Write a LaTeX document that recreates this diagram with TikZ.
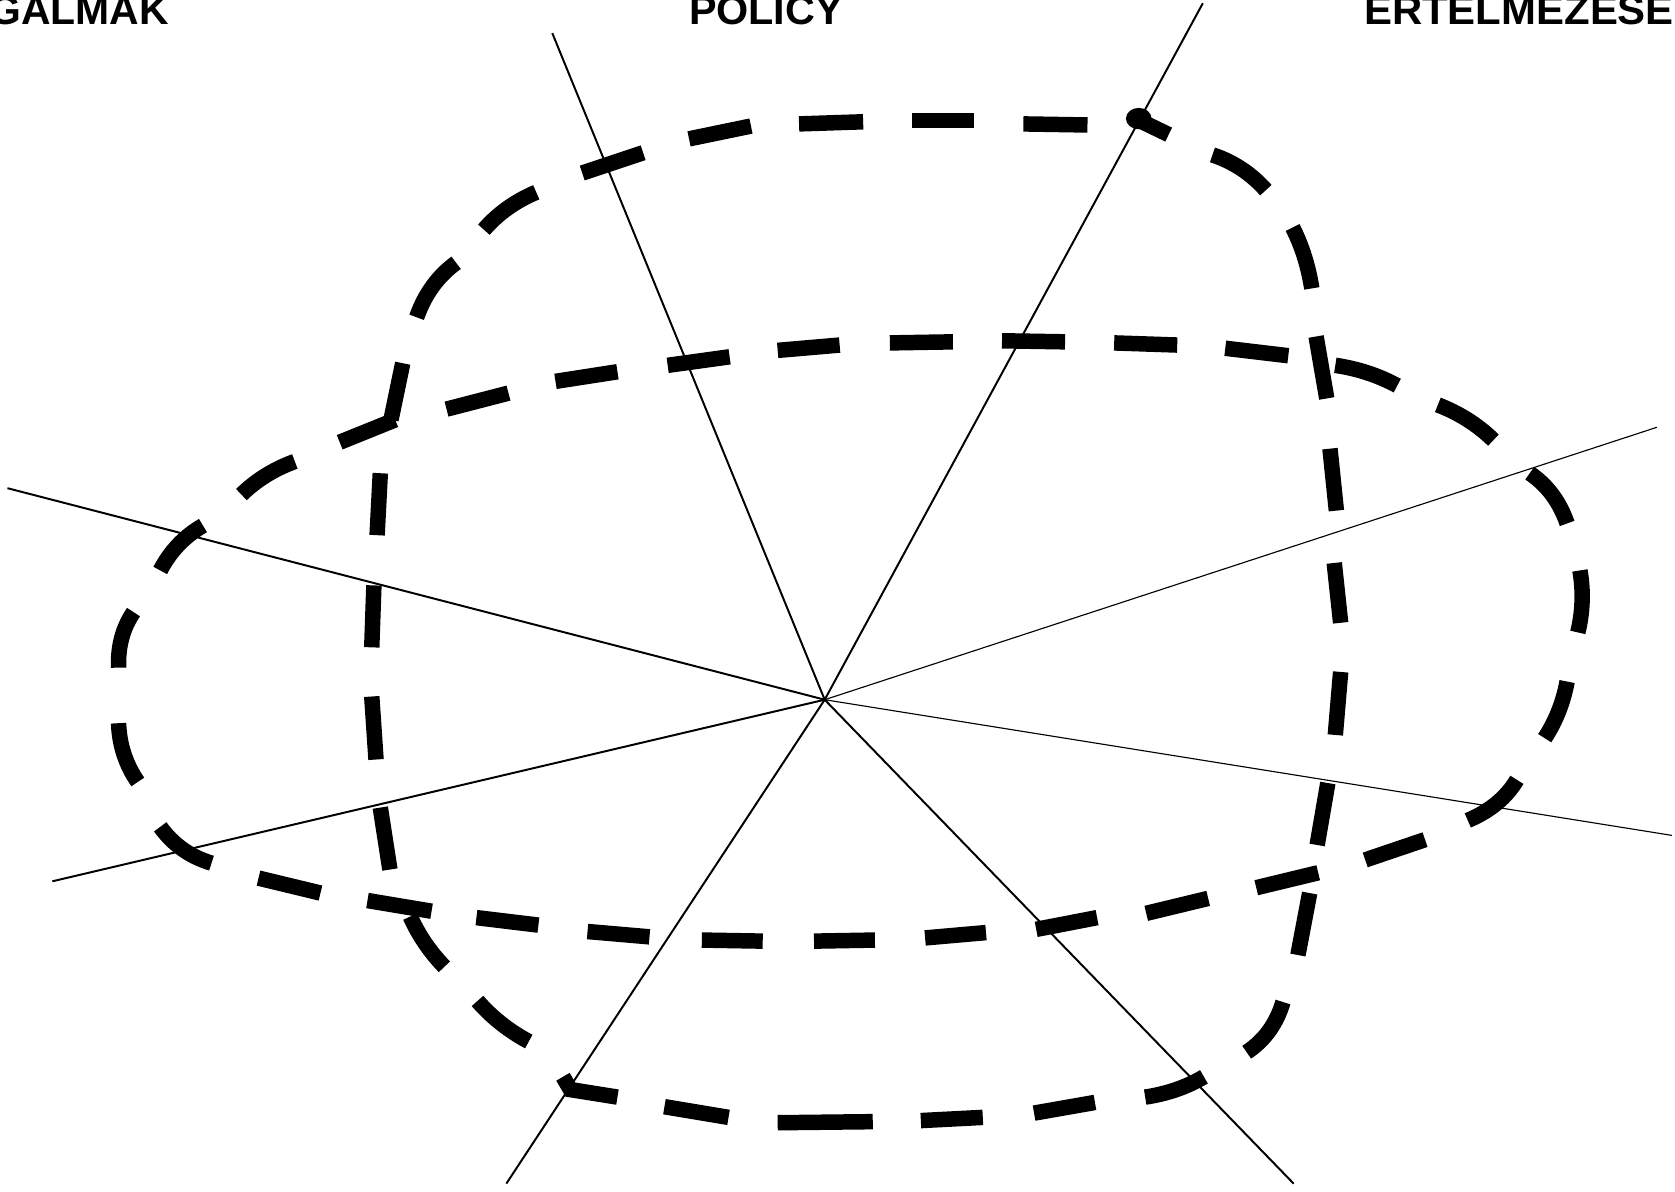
\documentclass[tikz,border=0pt]{standalone}
\usepackage{fontspec}
\usepackage{graphicx}
\setmainfont{Liberation Sans}
\begin{document}
\begin{tikzpicture}[x=0.02cm,y=-0.02cm,
  axisline/.style={line width=1.05pt,black},
  axisthin/.style={line width=0.6pt,black},
  dashseg/.style={line width=0.29cm,black},
  title/.style={font=\bfseries\fontsize{21.8}{24}\selectfont,inner sep=0pt,outer sep=0pt}]
\useasboundingbox (0,0) rectangle (1568,1115);
\clip (0,0) rectangle (1568,1115);
% axes
\coordinate (c) at (772,655);
\coordinate (a1) at (517,31);
\coordinate (a2) at (1126,3);
\coordinate (a3) at (1551,400);
\coordinate (a4) at (1565,782);
\coordinate (a5) at (1211,1108);
\coordinate (a6) at (474,1108);
\coordinate (a7) at (49,825);
\coordinate (a8) at (7,457);
\draw[axisline] (c) -- (a1);
\draw[axisline] (c) -- (a2);
\draw[axisthin] (c) -- (a3);
\draw[axisthin] (c) -- (a4);
\draw[axisline] (c) -- (a5);
\draw[axisline] (c) -- (a6);
\draw[axisline] (c) -- (a7);
\draw[axisline] (c) -- (a8);
% labels
\node[title,anchor=base east] (t1) at (158,23.4) {\resizebox{3.36cm}{\height}{GALMAK}};
\node[title,anchor=base] (t2) at (717,23.4) {\resizebox{2.88cm}{\height}{POLICY}};
\node[title,anchor=base west] (t3) at (1277,23.4) {\resizebox{5.80cm}{\height}{ERTELMEZESE}};
% ---- curve A (dashed loop, traced dash by dash) ----
\fill[black] (1066,111) ellipse [x radius=12, y radius=10];
\draw[dashseg] (1063,111) -- (1094,126);
\draw[dashseg] (1135,145) .. controls (1154.3,151.3) and (1171,162.3) .. (1185,178);
\draw[dashseg] (1210,213) .. controls (1218.7,230) and (1224.7,249) .. (1228,270);
\draw[dashseg] (1232,315) -- (1242,373);
\draw[dashseg] (1245,420) -- (1251,478);
\draw[dashseg] (1249,527) -- (1255,583);
\draw[dashseg] (1255,629) -- (1250,688);
\draw[dashseg] (1243,733) -- (1233,791);
\draw[dashseg] (1226,836) -- (1215,894);
\draw[dashseg] (1201,938) .. controls (1195,958.3) and (1183.7,974) .. (1167,985);
\draw[dashseg] (1127,1008) .. controls (1110.7,1017.7) and (1092.3,1024) .. (1072,1027);
\draw[dashseg] (1025,1032) -- (968,1042);
\draw[dashseg] (920,1046) -- (862,1049);
\draw[dashseg] (817,1050) -- (728,1051);
\draw[dashseg] (682,1046) -- (622,1036);
\draw[dashseg] (578,1027) -- (534,1020) -- (527,1008);
\draw[dashseg] (495,975) .. controls (476.3,965) and (460.3,952.3) .. (447,937);
\draw[dashseg] (416,905) .. controls (402.7,891.3) and (392,875.7) .. (384,858);
\draw[dashseg] (365,814) -- (356,756);
\draw[dashseg] (352,711) -- (348,652);
\draw[dashseg] (348,606) -- (350,548);
\draw[dashseg] (353,501) -- (356,443);
\draw[dashseg] (366,393) -- (377,340);
\draw[dashseg] (390,297) .. controls (397.7,275.3) and (410,258.3) .. (427,246);
\draw[dashseg] (453,215) .. controls (466,200) and (482.3,188.3) .. (502,180);
\draw[dashseg] (545,162) -- (602,143);
\draw[dashseg] (645,130) -- (703,118);
\draw[dashseg] (748,116) -- (808,114);
\draw[dashseg] (854,113) -- (912,113);
\draw[dashseg] (958,116) -- (1018,117);
% ---- curve B (dashed loop, traced dash by dash) ----
\draw[dashseg] (318,414) -- (370,393);
\draw[dashseg] (418,383) -- (476,368);
\draw[dashseg] (520,357) -- (578,348);
\draw[dashseg] (625,342) -- (683,334);
\draw[dashseg] (728,328) -- (786,323);
\draw[dashseg] (833,321) -- (892,320);
\draw[dashseg] (938,319) -- (997,320);
\draw[dashseg] (1043,321) -- (1102,323);
\draw[dashseg] (1147,326) -- (1206,333);
\draw[dashseg] (1250,342) .. controls (1270.7,345) and (1290,351.3) .. (1308,361);
\draw[dashseg] (1346,379) .. controls (1366,386.7) and (1383.3,397.7) .. (1398,412);
\draw[dashseg] (1432,443) .. controls (1448.3,454) and (1460,469.7) .. (1467,490);
\draw[dashseg] (1479,534) .. controls (1482.3,553.3) and (1481.7,572.7) .. (1477,592);
\draw[dashseg] (1467,638) .. controls (1463.3,657.7) and (1456.3,675.3) .. (1446,691);
\draw[dashseg] (1420,730) .. controls (1410,746.7) and (1394.7,759.3) .. (1374,768);
\draw[dashseg] (1334,786) -- (1278,805);
\draw[dashseg] (1234,817) -- (1176,831);
\draw[dashseg] (1131,841) -- (1073,855);
\draw[dashseg] (1027,859) -- (970,870);
\draw[dashseg] (923,873) -- (866,878);
\draw[dashseg] (819,880) -- (762,881);
\draw[dashseg] (714,881) -- (657,880);
\draw[dashseg] (608,877) -- (550,872);
\draw[dashseg] (504,866) -- (446,859);
\draw[dashseg] (404,853) -- (344,843);
\draw[dashseg] (300,836) -- (242,822);
\draw[dashseg] (198,808) .. controls (178,802) and (162,790.7) .. (150,774);
\draw[dashseg] (129,732) .. controls (117.7,715.7) and (111.7,697.3) .. (111,677);
\draw[dashseg] (111,625) .. controls (110.3,605) and (115,587.7) .. (125,573);
\draw[dashseg] (150,534) .. controls (159.3,516) and (172.7,502) .. (190,492);
\draw[dashseg] (226,463) .. controls (240,449.3) and (256.7,439) .. (276,432);
\end{tikzpicture}
\end{document}
